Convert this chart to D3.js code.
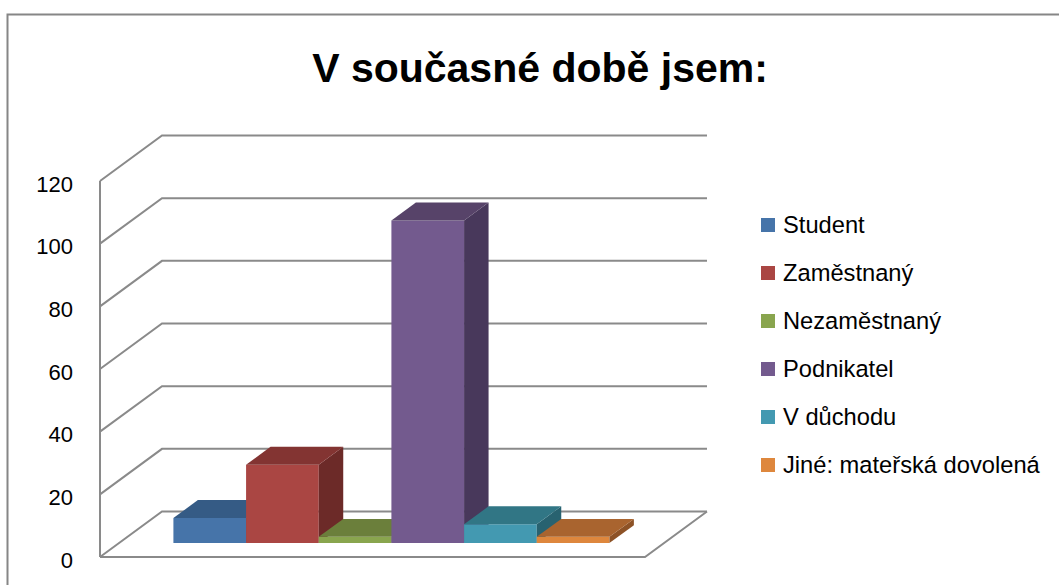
<!DOCTYPE html>
<html>
<head>
<meta charset="utf-8">
<script src="https://cdn.jsdelivr.net/npm/d3@7"></script>
<style>
  html, body { margin: 0; padding: 0; background: #fff; }
  svg { display: block; }
  text { font-family: "Liberation Sans", Arial, sans-serif; fill: #000; }
</style>
</head>
<body>
<svg id="chart" width="1059" height="585"></svg>
<script>
const title = "V současné době jsem:";
const categories = ["Student", "Zaměstnaný", "Nezaměstnaný", "Podnikatel", "V důchodu", "Jiné: mateřská dovolená"];
const values = [8, 25, 2, 103, 6, 2];
const yTicks = [0, 20, 40, 60, 80, 100, 120];
const frontColors = ["#4674A9", "#AA4643", "#89A54E", "#735A8E", "#4399B1", "#DE873D"];
const topColors   = ["#355B85", "#833432", "#6B7F3B", "#574369", "#317685", "#A9642F"];
const sideColors  = ["#2B4A6E", "#6C2A28", "#57682F", "#48385B", "#286270", "#8D5226"];

const svg = d3.select("#chart");

// chart frame
svg.append("rect").attr("x", 7.5).attr("y", 14.5).attr("width", 1100).attr("height", 700)
  .attr("fill", "none").attr("stroke", "#868686").attr("stroke-width", 2);

// 3D geometry
const x0 = 100, floorW = 545;
const depthDX = 62, depthDY = -45.5;
const y = d3.scaleLinear().domain([0, 120]).range([557, 181]);
const xBand = d3.scaleBand().domain(categories).range([0.1 * floorW, 0.9 * floorW]).padding(0);
const P = (fx, v, z) => [x0 + fx + z * depthDX, y(v) + z * depthDY];
const poly = pts => pts.map(p => p.join(",")).join(" ");

const gridColor = "#8a8a8a";
const grid = svg.append("g").attr("fill", "none").attr("stroke", gridColor).attr("stroke-width", 2);

// back wall horizontal gridlines + left wall diagonals
yTicks.forEach(t => {
  const a = P(0, t, 0), b = P(0, t, 1), c = P(floorW, t, 1);
  grid.append("polyline").attr("points", poly([a, b, c]));
});
// left wall front edge
grid.append("line").attr("x1", P(0, 0, 0)[0]).attr("y1", P(0, 0, 0)[1])
  .attr("x2", P(0, 120, 0)[0]).attr("y2", P(0, 120, 0)[1]);
// floor front edge and right edge
grid.append("polyline").attr("points", poly([P(0, 0, 0), P(floorW, 0, 0), P(floorW, 0, 1)]));

// bars
const z1 = 0.305, z2 = 0.70;
const bars = svg.append("g");
categories.forEach((c, i) => {
  const xa = xBand(c), xb = xa + xBand.bandwidth(), v = values[i];
  const g = bars.append("g");
  g.append("polygon").attr("points", poly([P(xa, 0, z1), P(xb, 0, z1), P(xb, v, z1), P(xa, v, z1)]))
    .attr("fill", frontColors[i]);
  g.append("polygon").attr("points", poly([P(xb, 0, z1), P(xb, 0, z2), P(xb, v, z2), P(xb, v, z1)]))
    .attr("fill", sideColors[i]);
  g.append("polygon").attr("points", poly([P(xa, v, z1), P(xb, v, z1), P(xb, v, z2), P(xa, v, z2)]))
    .attr("fill", topColors[i]);
});

// y axis labels
const axis = d3.axisLeft(y).tickValues(yTicks).tickSize(0).tickPadding(27);
const ag = svg.append("g").attr("transform", `translate(${x0},3)`).call(axis);
ag.select(".domain").remove();
ag.selectAll("text").attr("font-size", 22).attr("font-family", "Liberation Sans, Arial, sans-serif").attr("fill", "#000");

// title
svg.append("text").attr("x", 540).attr("y", 82).attr("text-anchor", "middle")
  .attr("font-size", 41).attr("font-weight", "bold").text(title);

// legend
const legend = svg.append("g").attr("transform", "translate(761,225)");
const items = legend.selectAll("g").data(categories).join("g")
  .attr("transform", (d, i) => `translate(0,${i * 48})`);
items.append("rect").attr("x", 0).attr("y", -7).attr("width", 14).attr("height", 14)
  .attr("fill", (d, i) => frontColors[i]);
items.append("text").attr("x", 22).attr("y", 8).attr("font-size", 23.7).text(d => d);
</script>
</body>
</html>
